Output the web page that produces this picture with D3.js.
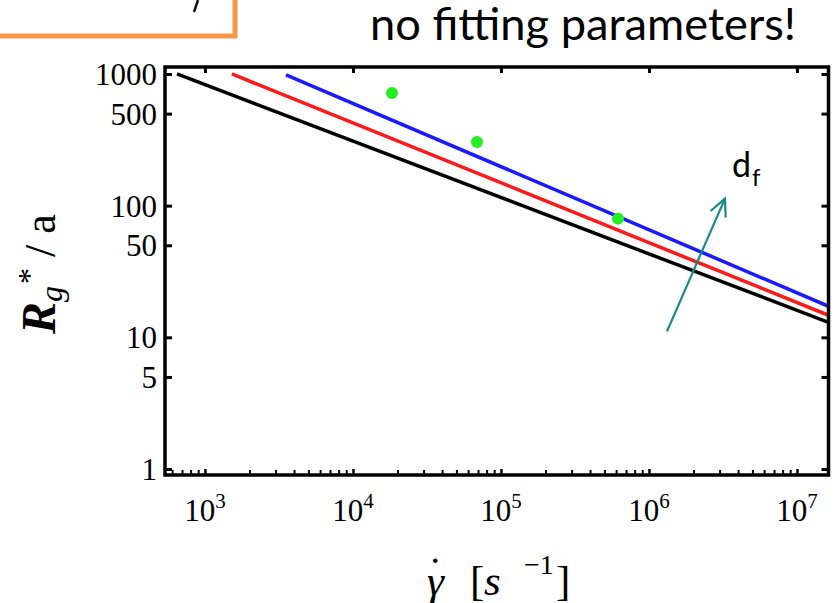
<!DOCTYPE html>
<html>
<head>
<meta charset="utf-8">
<script src="https://cdn.jsdelivr.net/npm/d3@7"></script>
<style>
  body { margin: 0; background: #fff; }
  svg { display: block; }
</style>
</head>
<body>
<svg id="container" width="839" height="603"></svg>
<script>
const svg = d3.select('#container')

// values (x: shear rate, y: Rg*/a)
const xMajor = [1e3, 1e4, 1e5, 1e6, 1e7]
const xExponents = ['3', '4', '5', '6', '7']
const yTicks = [1, 5, 10, 50, 100, 500, 1000]
const yLabels = ['1', '5', '10', '50', '100', '500', '1000']
const blackLine = [[647, 1000], [1.633e7, 13.0]]
const redLine = [[1520, 1000], [1.633e7, 14.7]]
const blueLine = [[3525, 983], [1.633e7, 17.2]]
const greenPoints = [[18340, 718], [68900, 305], [618000, 79.7]]
const arrowPoints = [[1.323e6, 11.1], [3.262e6, 113]]

const plotL = 165, plotR = 828.5, plotT = 67, plotB = 475
const xScale = d3.scaleLog().domain([537, 1.633e7]).range([plotL, plotR])
const yScale = d3.scaleLog().domain([0.9, 1130]).range([plotB, plotT])

// orange box cut off at the top left
svg.append('rect')
  .attr('x', -20).attr('y', -20)
  .attr('width', 255).attr('height', 56)
  .style('fill', 'none')
  .style('stroke', '#f79646')
  .style('stroke-width', 5)
svg.append('path')
  .attr('d', 'M198,0 L194,12')
  .style('stroke', '#111')
  .style('stroke-width', 2.5)

// headline
const note = svg.append('text')
  .attr('x', 370).attr('y', 40)
  .style('font-family', 'Lato, "Noto Sans", sans-serif')
  .style('font-size', '44px')
  .style('fill', '#000')
  .text('no fitting parameters!')
const noteW = note.node().getComputedTextLength()
note.style('font-size', (44 * 426 / noteW) + 'px')

svg.append('clipPath').attr('id', 'plotClip')
  .append('rect')
  .attr('x', plotL).attr('y', plotT)
  .attr('width', plotR - plotL).attr('height', plotB - plotT)

const plot = svg.append('g').attr('clip-path', 'url(#plotClip)')
const line = d3.line().x((d) => xScale(d[0])).y((d) => yScale(d[1]))

const series = [
  { pts: blackLine, color: '#000000' },
  { pts: redLine, color: '#ff1a1a' },
  { pts: blueLine, color: '#1a1aff' }
]
plot.selectAll('path.series')
  .data(series)
  .enter()
  .append('path')
  .attr('class', 'series')
  .attr('d', (d) => line(d.pts))
  .style('fill', 'none')
  .style('stroke', (d) => d.color)
  .style('stroke-width', 3.5)

plot.selectAll('circle')
  .data(greenPoints)
  .enter()
  .append('circle')
  .attr('cx', (d) => xScale(d[0]))
  .attr('cy', (d) => yScale(d[1]))
  .attr('r', 6)
  .style('fill', '#22ee22')

// ticks, all pointing inwards
const minor = xScale.ticks().filter((v) => !xMajor.includes(v))

svg.append('g')
  .attr('transform', `translate(0,${plotB})`)
  .call(d3.axisBottom(xScale).tickValues(minor).tickSize(-5).tickFormat(''))
  .call((g) => g.select('.domain').remove())
  .call((g) => g.selectAll('line').style('stroke-width', 2))
svg.append('g')
  .attr('transform', `translate(0,${plotB})`)
  .call(d3.axisBottom(xScale).tickValues(xMajor).tickSize(-6).tickFormat(''))
  .call((g) => g.select('.domain').remove())
  .call((g) => g.selectAll('line').style('stroke-width', 2.5))
svg.append('g')
  .attr('transform', `translate(0,${plotT})`)
  .call(d3.axisTop(xScale).tickValues(minor).tickSize(-2).tickFormat(''))
  .call((g) => g.select('.domain').remove())
  .call((g) => g.selectAll('line').style('stroke', '#bbb').style('stroke-width', 1))
svg.append('g')
  .attr('transform', `translate(0,${plotT})`)
  .call(d3.axisTop(xScale).tickValues(xMajor).tickSize(-6).tickFormat(''))
  .call((g) => g.select('.domain').remove())
  .call((g) => g.selectAll('line').style('stroke-width', 3))
svg.append('g')
  .attr('transform', `translate(${plotL},0)`)
  .call(d3.axisLeft(yScale).tickValues(yTicks).tickSize(-7).tickFormat(''))
  .call((g) => g.select('.domain').remove())
  .call((g) => g.selectAll('line').style('stroke-width', 3))
svg.append('g')
  .attr('transform', `translate(${plotR},0)`)
  .call(d3.axisRight(yScale).tickValues(yTicks).tickSize(-7).tickFormat(''))
  .call((g) => g.select('.domain').remove())
  .call((g) => g.selectAll('line').style('stroke-width', 3))

// frame
svg.append('rect')
  .attr('x', plotL).attr('y', plotT)
  .attr('width', plotR - plotL).attr('height', plotB - plotT)
  .style('fill', 'none')
  .style('stroke', '#000')
  .style('stroke-width', 3.5)

const serif = '"Liberation Serif", "Times New Roman", serif'

// y tick labels
svg.selectAll('text.ylab')
  .data(yTicks)
  .enter()
  .append('text')
  .attr('class', 'ylab')
  .attr('x', plotL - 8)
  .attr('y', (d) => yScale(d) + 11)
  .attr('text-anchor', 'end')
  .style('font-family', serif)
  .style('font-size', '31px')
  .text((d, i) => yLabels[i])

// x tick labels 10^n
const xl = svg.selectAll('text.xlab')
  .data(xMajor)
  .enter()
  .append('text')
  .attr('class', 'xlab')
  .attr('x', (d) => xScale(d))
  .attr('y', 521)
  .attr('text-anchor', 'middle')
  .style('font-family', serif)
  .style('font-size', '31px')
xl.append('tspan').text('10')
xl.append('tspan')
  .attr('dy', -13)
  .style('font-size', '21px')
  .text((d, i) => xExponents[i])

// x title: gamma-dot [s^-1]
const xt = svg.append('text')
  .attr('y', 595)
  .style('font-family', serif)
  .style('font-size', '43px')
xt.append('tspan').attr('x', 427).style('font-style', 'italic').text('γ')
xt.append('tspan').attr('x', 470).text('[')
xt.append('tspan').attr('x', 484).style('font-style', 'italic').text('s')
xt.append('tspan').attr('x', 524).attr('dy', -21).style('font-size', '28px').text('−1')
xt.append('tspan').attr('x', 556).attr('dy', 21).text(']')
xt.append('tspan').attr('x', 428).attr('y', 587).text('˙')

// y title
const yt = svg.append('text')
  .attr('transform', 'translate(55,334) rotate(-90)')
  .style('font-family', serif)
yt.append('tspan')
  .style('font-size', '48px')
  .style('font-weight', 'bold')
  .style('font-style', 'italic')
  .text('R')
yt.append('tspan')
  .attr('dy', 7)
  .style('font-size', '32px')
  .style('font-style', 'italic')
  .text('g')
yt.append('tspan')
  .attr('dx', 2)
  .attr('dy', -22)
  .style('font-size', '32px')
  .text('*')
yt.append('tspan')
  .attr('dy', 15)
  .style('font-size', '44px')
  .text(' / a')

// d_f arrow
const teal = '#17898b'
const [p0, p1] = arrowPoints.map((d) => [xScale(d[0]), yScale(d[1])])
svg.append('line')
  .attr('x1', p0[0]).attr('y1', p0[1])
  .attr('x2', p1[0]).attr('y2', p1[1])
  .style('stroke', teal)
  .style('stroke-width', 2.2)
const ang = Math.atan2(p1[1] - p0[1], p1[0] - p0[0])
const head = [ang + Math.PI - 0.45, ang + Math.PI + 0.45].map((a) => [p1[0] + 19 * Math.cos(a), p1[1] + 19 * Math.sin(a)])
svg.append('path')
  .attr('d', `M${head[0][0]},${head[0][1]} L${p1[0]},${p1[1]} L${head[1][0]},${head[1][1]}`)
  .style('fill', 'none')
  .style('stroke', teal)
  .style('stroke-width', 2.2)

const df = svg.append('text')
  .attr('x', 732).attr('y', 177)
  .style('font-family', 'Lato, "Noto Sans", sans-serif')
  .style('font-size', '34px')
df.append('tspan').text('d')
df.append('tspan').attr('dx', 1).attr('dy', 9).style('font-size', '24px').text('f')
</script>
</body>
</html>
